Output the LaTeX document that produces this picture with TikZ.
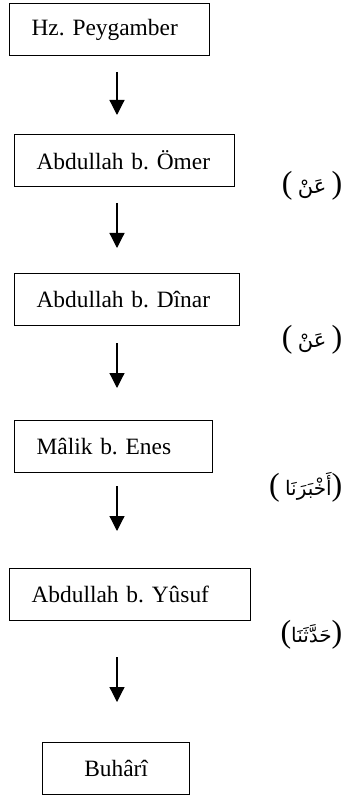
\documentclass[tikz,border=0pt]{standalone}
\usepackage{fontspec}
\setmainfont{Liberation Serif}
\newfontfamily\arabicfont[Script=Arabic]{DejaVu Sans}
\TeXXeTstate=1
\frenchspacing
\usetikzlibrary{arrows.meta}

\begin{document}
\begin{tikzpicture}[x=0.5pt, y=-0.5pt, line width=.6pt,
	>={Triangle[width=7.5pt,length=7.5pt]},
	ravi/.style={draw, anchor=north west, minimum height=26pt, inner xsep=11pt, inner ysep=0pt, align=left, text width=#1, font=\fontsize{11.7}{14}\selectfont},
	rivayet/.style={anchor=east, inner sep=0pt, font=\fontsize{16}{18}\selectfont}]
		\useasboundingbox (0,0) rectangle (355,796);
		
		%coordinates
		\coordinate (ArroneS) at (117,72);
		\coordinate (ArroneE) at (117,115);
		\coordinate (ArrtwoS) at (117,203);
		\coordinate (ArrtwoE) at (117,248);
		\coordinate (ArrthrS) at (117,343);
		\coordinate (ArrthrE) at (117,388);
		\coordinate (ArrfouS) at (117,486);
		\coordinate (ArrfouE) at (117,531);
		\coordinate (ArrfivS) at (117,657);
		\coordinate (ArrfivE) at (117,702);
		
		%nodes
		\node[ravi=78pt] (peygamber) at (9,3) {Hz. Peygamber};
		\node[ravi=88pt] (omer) at (14,134) {Abdullah b. Ömer};
		\node[ravi=90.5pt] (dinar) at (14,273) {Abdullah b. Dînar};
		\node[ravi=77pt] (malik) at (14,420) {Mâlik b. Enes};
		\node[ravi=98.5pt] (yusuf) at (9,568) {Abdullah b. Yûsuf};
		\node[ravi=51.5pt, align=center] (buhari) at (42,742) {Buhârî};
		
		%sigha
		\node[rivayet] (anone) at (343,186) {(\,{\arabicfont\fontsize{10.5}{12}\selectfont\beginR عَنْ\endR}\,)};
		\node[rivayet] (antwo) at (343,340) {(\,{\arabicfont\fontsize{10.5}{12}\selectfont\beginR عَنْ\endR}\,)};
		\node[rivayet] (ahberana) at (343,487) {(\,{\arabicfont\fontsize{10}{12}\selectfont\beginR أَخْبَرَنَا\endR})};
		\node[rivayet] (haddesena) at (343,635) {({\arabicfont\fontsize{10}{12}\selectfont\beginR حَدَّثَنَا\endR})};
		
		\draw[->] (ArroneS) -- (ArroneE);
		\draw[->] (ArrtwoS) -- (ArrtwoE);
		\draw[->] (ArrthrS) -- (ArrthrE);
		\draw[->] (ArrfouS) -- (ArrfouE);
		\draw[->] (ArrfivS) -- (ArrfivE);
\end{tikzpicture}
\end{document}
